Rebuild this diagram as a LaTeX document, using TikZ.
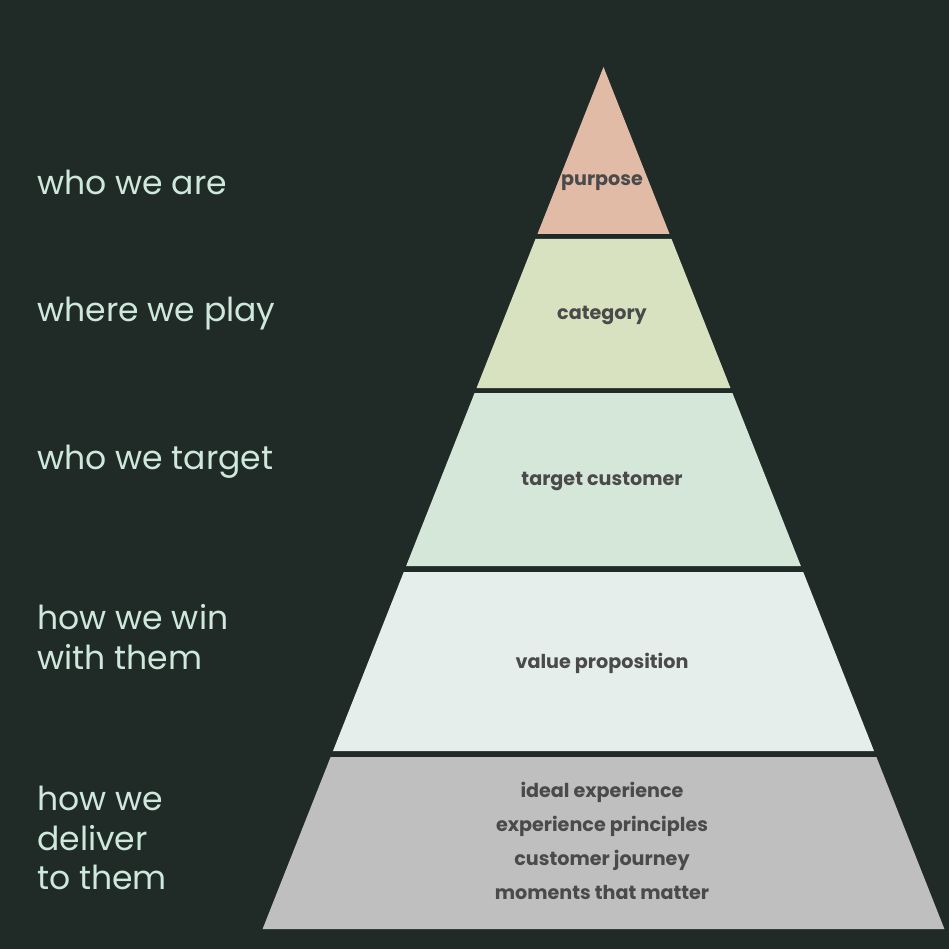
\documentclass[tikz,border=0pt]{standalone}
\usepackage{fontspec}
\setmainfont{Poppins}
\definecolor{bgdark}{HTML}{202B28}
\definecolor{purposecol}{HTML}{E2BBA6}
\definecolor{categorycol}{HTML}{D8E2C0}
\definecolor{targetcol}{HTML}{D5E7D9}
\definecolor{valuecol}{HTML}{E5EEEB}
\definecolor{delivercol}{HTML}{BFBFBF}
\definecolor{labeltext}{HTML}{4A4A4A}
\definecolor{sidetext}{HTML}{CFE8DC}
\tikzset{
  layertext/.style={text=labeltext,font=\fontsize{10.9}{19.5}\selectfont\bfseries,align=center},
  sidelabel/.style={text=sidetext,font=\fontsize{18.8}{22.5}\selectfont,align=left,anchor=west,inner sep=0pt}
}
\begin{document}
\begin{tikzpicture}[x=0.02cm,y=-0.02cm]
     \fill[bgdark] (0,0) rectangle (949,949);
     \useasboundingbox (0,0) rectangle (949,949);
     \foreach \ya/\yb/\col in {67/234/purposecol,239/388/categorycol,393/566/targetcol,572/751/valuecol,757/929/delivercol}
       \fill[\col] ({603.5-0.3955*(\ya-67)},\ya) -- ({603.5+0.3955*(\ya-67)},\ya) -- ({603.5+0.3955*(\yb-67)},\yb) -- ({603.5-0.3955*(\yb-67)},\yb) -- cycle;
     \node[layertext] (purpose) at (602,183) {purpose};
     \node[layertext] (category) at (602,315) {category};
     \node[layertext] (target) at (602,481) {target customer};
     \node[layertext] (value) at (602,663) {value proposition};
     \node[layertext] (deliver) at (602,841) {ideal experience\\experience principles\\customer journey\\moments that matter};
     \node[sidelabel] (who) at (37,182) {who we are};
     \node[sidelabel] (where) at (37,314) {where we play};
     \node[sidelabel] (whom) at (37,462) {who we target};
     \node[sidelabel] (win) at (37,637) {how we win\\with them};
     \node[sidelabel] (how) at (37,838) {how we\\deliver\\to them};
\end{tikzpicture}
\end{document}
